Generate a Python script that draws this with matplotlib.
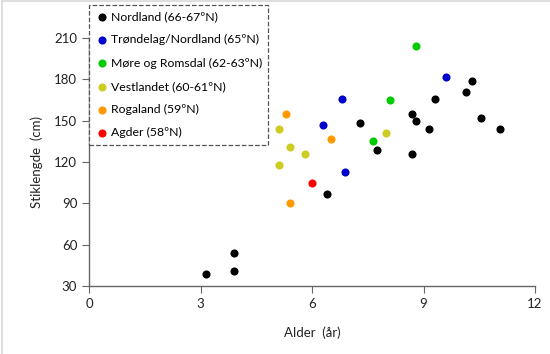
import matplotlib
matplotlib.use("Agg")
import matplotlib.pyplot as plt

plt.rcParams['font.family'] = ['Lato', 'DejaVu Sans']

# Alder (år) og stiklengde (cm) per region
nordland_x = [3.15, 3.9, 3.9, 6.4, 7.3, 7.75, 8.7, 8.8, 8.7, 9.15, 9.3, 10.15, 10.3, 10.55, 11.05]
nordland_y = [39, 54, 41, 97, 148, 129, 155, 150, 126, 144, 166, 171, 179, 152, 144]
trondelag_x = [6.8, 6.3, 6.9, 9.6]
trondelag_y = [166, 147, 113, 182]
more_x = [8.8, 8.1, 7.65]
more_y = [204, 165, 135]
vestlandet_x = [5.1, 5.4, 5.8, 5.1, 8.0]
vestlandet_y = [144, 131, 126, 118, 141]
rogaland_x = [5.3, 6.5, 5.4]
rogaland_y = [155, 137, 90]
agder_x = [6.0]
agder_y = [105]

labels = ["Nordland (66-67ºN)", "Trøndelag/Nordland (65ºN)", "Møre og Romsdal (62-63ºN)",
          "Vestlandet (60-61ºN)", "Rogaland (59ºN)", "Agder (58ºN)"]
colors = ["#000000", "#0000CC", "#00CC00", "#CCCC22", "#FF9900", "#FF0000"]
xs = [nordland_x, trondelag_x, more_x, vestlandet_x, rogaland_x, agder_x]
ys = [nordland_y, trondelag_y, more_y, vestlandet_y, rogaland_y, agder_y]

x_ticks = [0, 3, 6, 9, 12]
y_ticks = [30, 60, 90, 120, 150, 180, 210]

fig = plt.figure(figsize=(5.5, 3.54), dpi=100)
ax = fig.add_axes([89 / 550, 1 - 286 / 354, (535 - 89) / 550, (286 - 38) / 354])

for x, y, c, lab in zip(xs, ys, colors, labels):
    ax.scatter(x, y, s=34, color=c, label=lab, zorder=3, linewidths=0)

ax.set_xlim(0, 12)
ax.set_ylim(30, 210)
ax.set_xticks(x_ticks)
ax.set_yticks(y_ticks)
ax.spines['top'].set_visible(False)
ax.spines['right'].set_visible(False)
for s in ['left', 'bottom']:
    ax.spines[s].set_color('#666666')
    ax.spines[s].set_linewidth(1.0)
ax.tick_params(direction='out', length=5, color='#666666', labelsize=9.5, labelcolor='#222222')
ax.set_xlabel("Alder  (år)", fontsize=9.5, color='#222222', labelpad=12)
ax.set_ylabel("Stiklengde  (cm)", fontsize=9.5, color='#222222', labelpad=8)

leg = fig.legend(loc='upper left', bbox_to_anchor=(89 / 550, 1 - 5 / 354), fontsize=8.8,
                 frameon=True, fancybox=False, handletextpad=0.1, handlelength=1.2,
                 labelspacing=1.0, borderpad=0.5, borderaxespad=0)
frame = leg.get_frame()
frame.set_edgecolor('#555555')
frame.set_linestyle('--')
frame.set_linewidth(0.9)
frame.set_facecolor('white')
frame.set_alpha(1)

# Ramme rundt diagramområdet
border = plt.Rectangle((0.003, -0.1), 1.1, 1.097, transform=fig.transFigure, fill=False,
                       edgecolor='#d9d9d9', linewidth=1.2)
fig.patches.append(border)

fig.savefig("out.png", dpi=100)
